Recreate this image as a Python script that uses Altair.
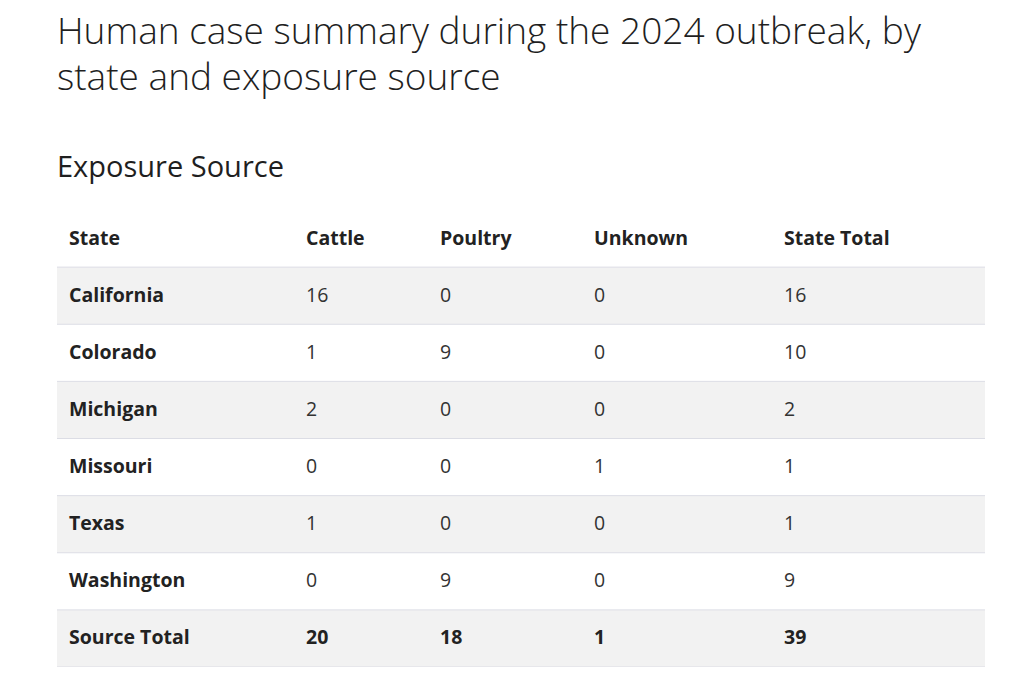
import altair as alt
import pandas as pd

# ---- data ----
states = ["California", "Colorado", "Michigan", "Missouri", "Texas", "Washington"]
cattle = [16, 1, 2, 0, 1, 0]
poultry = [0, 9, 0, 0, 0, 9]
unknown = [0, 0, 0, 1, 0, 0]
state_total = [16, 10, 2, 1, 1, 9]
source_total = [20, 18, 1, 39]
headers = ["State", "Cattle", "Poultry", "Unknown", "State Total"]
total_label = "Source Total"

# ---- layout constants ----
W = 928
H = 457
col_left = [12, 249, 383, 537, 727]
HEADER = "__header__"
row_order = [HEADER] + states + [total_label]
TFONT = "Open Sans"

cells = []
for c, h in enumerate(headers):
    cells.append({"row": HEADER, "col": col_left[c], "label": h, "bold": 1})
for i, s in enumerate(states):
    vals = [cattle[i], poultry[i], unknown[i], state_total[i]]
    cells.append({"row": s, "col": col_left[0], "label": s, "bold": 1})
    for c, v in enumerate(vals):
        cells.append({"row": s, "col": col_left[c + 1], "label": str(v), "bold": 0})
cells.append({"row": total_label, "col": col_left[0], "label": total_label, "bold": 1})
for c, v in enumerate(source_total):
    cells.append({"row": total_label, "col": col_left[c + 1], "label": str(v), "bold": 1})
cells_df = pd.DataFrame(cells)

rows_df = pd.DataFrame({
    "row": row_order,
    "fill": ["#ffffff"] + ["#f2f2f2" if i % 2 == 0 else "#ffffff" for i in range(len(row_order) - 1)],
})

yscale = alt.Scale(domain=row_order, paddingInner=0, paddingOuter=0)
yenc = alt.Y("row:N", sort=row_order, scale=yscale, axis=None)

bg = alt.Chart(rows_df).mark_rect().encode(
    y=yenc,
    x=alt.value(0), x2=alt.value(W),
    fill=alt.Fill("fill:N", scale=None),
)

rules = alt.Chart(rows_df).mark_rule(color="#dcdde5", strokeWidth=1).encode(
    y=alt.Y("row:N", sort=row_order, bandPosition=1, scale=yscale, axis=None),
    x=alt.value(0), x2=alt.value(W),
)

xenc = alt.X("col:Q", scale=alt.Scale(domain=[0, W], range=[0, W], nice=False, zero=False), axis=None)

text_bold = alt.Chart(cells_df).transform_filter("datum.bold == 1").mark_text(
    align="left", baseline="middle", font=TFONT, fontSize=19.5, fontWeight=700, color="#222222"
).encode(x=xenc, y=yenc, text="label:N")

text_reg = alt.Chart(cells_df).transform_filter("datum.bold == 0").mark_text(
    align="left", baseline="middle", font=TFONT, fontSize=19.5, fontWeight=400, color="#333333"
).encode(x=xenc, y=yenc, text="label:N")

chart = alt.layer(bg, rules, text_bold, text_reg).properties(
    width=W, height=H,
    title=alt.Title(
        text=["Human case summary during the 2024 outbreak, by", "state and exposure source"],
        subtitle="Exposure Source",
        anchor="start", frame="group",
        font="Open Sans", fontSize=37, fontWeight=300, color="#1f1f1f", lineHeight=46,
        subtitleFont="Open Sans", subtitleFontSize=29, subtitleFontWeight=500,
        subtitleColor="#1f1f1f", subtitlePadding=56, offset=26,
    ),
    autosize=alt.AutoSizeParams(type="none"),
    padding={"left": 49, "top": 202, "right": 0, "bottom": 0},
).configure_view(stroke=None)

chart.save("out.html", embed_options={"renderer": "svg", "actions": False})
